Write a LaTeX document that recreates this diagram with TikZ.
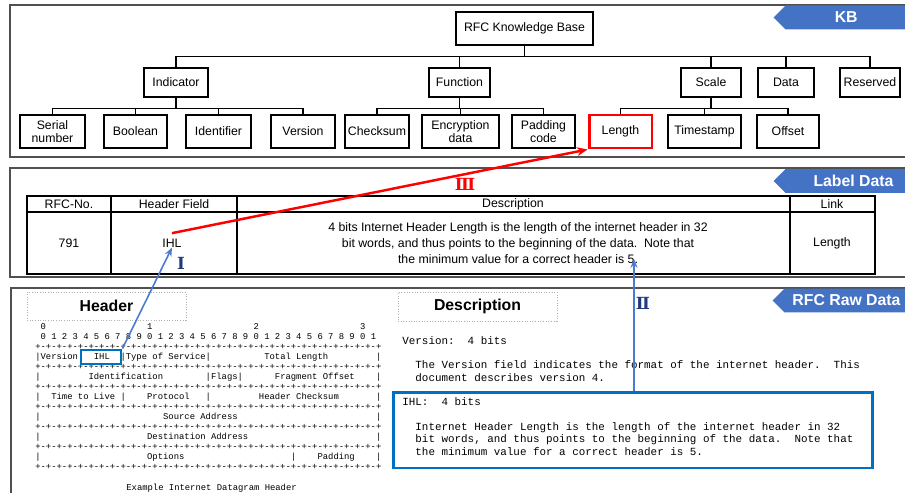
\documentclass[tikz,border=0pt]{standalone}
\usepackage{fontspec}
\setmainfont{Liberation Sans}
\setmonofont{Liberation Mono}
\newfontfamily\romfont{DejaVu Serif}
\usepackage{xcolor}
\usepackage{tikz}
\usetikzlibrary{shapes.symbols,arrows.meta}

\definecolor{tagblue}{HTML}{4472C4}
\definecolor{boxblue}{HTML}{0070C0}
\definecolor{linkblue}{HTML}{4A7BD0}
\definecolor{numnavy}{HTML}{203A80}
\definecolor{framegray}{HTML}{505050}

% n blanks of the current (mono) font
\newcommand{\sps}[1]{\kern#1\fontdimen2\font}
\newcommand{\ruleline}{+-+-+-+-+-+-+-+-+-+-+-+-+-+-+-+-+-+-+-+-+-+-+-+-+-+-+-+-+-+-+-+-+}

\begin{document}
\begin{tikzpicture}[
	x=0.02cm, y=-0.02cm,
	panel/.style={draw=framegray,line width=1.1pt},
	tag/.style={signal,signal to=west,signal pointer angle=90,fill=tagblue,text=white,
		font=\bfseries\fontsize{9}{9}\selectfont,minimum height=0.48cm,inner sep=0pt},
	kbbox/.style={draw,line width=0.6pt,align=center,inner sep=1pt,
		font=\fontsize{7}{7.6}\selectfont},
	tlevel/.style={kbbox,minimum height=0.58cm},
	tleaf/.style={kbbox,minimum height=0.66cm},
	tree/.style={line width=0.6pt},
	cell/.style={font=\fontsize{7}{9}\selectfont,inner sep=0pt,align=center},
	titlebox/.style={draw=gray!60,densely dotted,line width=0.5pt,
		font=\bfseries\fontsize{9}{9}\selectfont},
	roman/.style={font=\romfont\bfseries\fontsize{9.5}{9.5}\selectfont,inner sep=0pt},
	ascii/.style={font=\ttfamily\frenchspacing\fontsize{5.05}{5.67}\selectfont,
		align=left,inner sep=0pt},
	rawtext/.style={font=\ttfamily\frenchspacing\fontsize{6.2}{7.03}\selectfont,
		align=left,inner sep=0pt},
	pick/.style={draw=boxblue,line width=1.7pt,inner sep=0pt},
	redlink/.style={draw=red,line width=1.4pt,-{Stealth[length=6pt,width=5pt]}},
	bluelink/.style={draw=linkblue,line width=0.9pt,-{Stealth[length=5pt,width=4pt]}}
]
	\useasboundingbox (0,0) rectangle (905,493);

	% three panels
	\draw[panel] (10,5) rectangle (912,157);
	\draw[panel] (10,168) rectangle (912,277);
	\draw[panel] (11,288) rectangle (912,510);
	\node[tag,anchor=west,minimum width=2.67cm] (tagkb) at (773,17.5) {KB};
	\node[tag,anchor=west,minimum width=2.96cm] (taglabel) at (773,181) {Label Data};
	\node[tag,anchor=west,minimum width=2.72cm] (tagraw) at (772,300.5) {RFC Raw Data};

	% knowledge base tree
	\node[kbbox,minimum width=2.74cm,minimum height=0.66cm] (root) at (524.5,28.5) {RFC Knowledge Base};

	\node[tlevel,minimum width=1.28cm] (ind) at (176,82.5) {Indicator};
	\node[tlevel,minimum width=1.22cm] (fun) at (459.5,82.5) {Function};
	\node[tlevel,minimum width=1.2cm] (sca) at (711,82.5) {Scale};
	\node[tlevel,minimum width=1.12cm] (dat) at (786,82.5) {Data};
	\node[tlevel,minimum width=1.2cm] (res) at (870,82.5) {Reserved};

	\node[tleaf,minimum width=1.3cm] (ser) at (52.5,131.5) {Serial\\number};
	\node[tleaf,minimum width=1.26cm] (boo) at (135.5,131.5) {Boolean};
	\node[tleaf,minimum width=1.3cm] (ide) at (218.5,131.5) {Identifier};
	\node[tleaf,minimum width=1.28cm] (ver) at (303,131.5) {Version};
	\node[tleaf,minimum width=1.28cm] (chk) at (377,131.5) {Checksum};
	\node[tleaf,minimum width=1.54cm] (enc) at (460.5,131.5) {Encryption\\data};
	\node[tleaf,minimum width=1.26cm] (pad) at (543.5,131.5) {Padding\\code};
	\node[tleaf,minimum width=1.26cm,draw=red,line width=1.7pt] (len) at (620.5,131.5) {Length};
	\node[tleaf,minimum width=1.46cm] (tim) at (704.5,131.5) {Timestamp};
	\node[tleaf,minimum width=1.24cm] (off) at (788,131.5) {Offset};

	\foreach \c in {ind,fun,sca,dat,res}
		\draw[tree] (root.south) -- ++(0,11) -| (\c.north);
	\foreach \c in {ser,boo,ide,ver}
		\draw[tree] (ind.south) -- ++(0,11) -| (\c.north);
	\foreach \c in {chk,enc,pad}
		\draw[tree] (fun.south) -- ++(0,11) -| (\c.north);
	\foreach \c in {len,tim,off}
		\draw[tree] (sca.south) -- ++(0,11) -| (\c.north);

	% label data table
	\draw[line width=0.6pt] (27,196) rectangle (875,274);
	\draw[line width=0.6pt] (27,212) -- (875,212);
	\foreach \x in {111,237,790}
		\draw[line width=0.6pt] (\x,196) -- (\x,274);
	\node[cell] (hno) at (69,204) {RFC-No.};
	\node[cell] (hfield) at (174,204) {Header Field};
	\node[cell] (hdesc) at (513,204) {Description};
	\node[cell] (hlink) at (832,204) {Link};
	\node[cell] (rno) at (69,243) {791};
	\node[cell] (rfield) at (172,243) {IHL};
	\node[cell] (rdesc) at (518,243) {4 bits Internet Header Length is the length of the internet header in 32\\
		bit words, and thus points to the beginning of the data.\ \ Note that\\
		the minimum value for a correct header is 5.};
	\node[cell] (rlink) at (832,243) {Length};

	% raw RFC text
	\node[titlebox,minimum width=3.18cm,minimum height=0.56cm] (thead) at (106.5,306) {Header};
	\node[titlebox,minimum width=3.18cm,minimum height=0.58cm] (tdesc) at (477.5,306.5) {Description};

	\node[ascii,anchor=north west] (hdr) at (35,323.6) {%
		\sps{1}0\sps{19}1\sps{19}2\sps{19}3\\
		\sps{1}0 1 2 3 4 5 6 7 8 9 0 1 2 3 4 5 6 7 8 9 0 1 2 3 4 5 6 7 8 9 0 1\\
		\ruleline\\
		|Version|\sps{2}IHL\sps{2}|Type of Service|\sps{10}Total Length\sps{9}|\\
		\ruleline\\
		|\sps{9}Identification\sps{8}|Flags|\sps{6}Fragment Offset\sps{4}|\\
		\ruleline\\
		|\sps{2}Time to Live |\sps{4}Protocol\sps{3}|\sps{9}Header Checksum\sps{7}|\\
		\ruleline\\
		|\sps{23}Source Address\sps{26}|\\
		\ruleline\\
		|\sps{20}Destination Address\sps{24}|\\
		\ruleline\\
		|\sps{20}Options\sps{20}|\sps{4}Padding\sps{4}|\\
		\ruleline};
	\node[ascii,anchor=base west] (cap) at (126,490) {Example Internet Datagram Header};

	\node[rawtext,anchor=north west] (raw) at (402,335.8) {%
		Version:\sps{2}4 bits\\
		~\\
		\sps{2}The Version field indicates the format of the internet header.\sps{2}This\\
		\sps{2}document describes version 4.\\
		~\\
		IHL:\sps{2}4 bits\\
		~\\
		\sps{2}Internet Header Length is the length of the internet header in 32\\
		\sps{2}bit words, and thus points to the beginning of the data.\sps{2}Note that\\
		\sps{2}the minimum value for a correct header is 5.};

	\node[pick,minimum width=0.8cm,minimum height=0.28cm] (hihl) at (101,357) {};
	\node[pick,minimum width=9.6cm,minimum height=1.52cm] (descbox) at (633,430) {};

	% links
	\coordinate (IItip) at (634,259);
	\draw[redlink] ([yshift=3pt]rfield.north) -- (len.south west);
	\draw[bluelink] (hihl.north east) -- (rfield.south);
	\draw[bluelink] (descbox.north -| IItip) -- (IItip);
	\node[roman,text=red] (nIII) at (465,184.5) {Ⅲ};
	\node[roman,text=numnavy] (nI) at (181,263) {Ⅰ};
	\node[roman,text=numnavy] (nII) at (643,303.5) {Ⅱ};
\end{tikzpicture}
\end{document}
